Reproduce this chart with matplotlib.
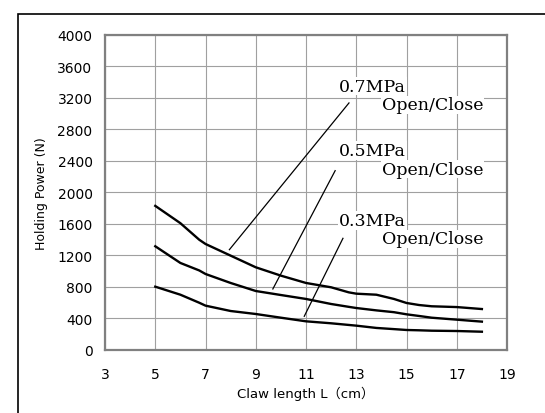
import matplotlib.pyplot as plt
from matplotlib.patches import Rectangle

# Data.
claw_len = [5, 6, 6.75, 7, 8, 9, 10, 11, 12, 12.7, 13, 13.8, 14.5, 15, 15.5, 16, 17, 18]
p07 = [1830, 1610, 1400, 1346, 1198, 1050, 944, 851, 796, 732, 715, 702, 648, 597, 571, 555, 545, 520]
p05 = [1317, 1105, 1010, 965, 851, 749, 698, 648, 584, 548, 533, 503, 480, 453, 432, 410, 385, 360]
p03 = [804, 702, 600, 563, 495, 457, 410, 364, 339, 318, 309, 280, 265, 254, 250, 245, 241, 232]

labels = ['0.7MPa', '0.5MPa', '0.3MPa']
label_y = [3352, 2531, 1642]
sub_y = [3111, 2298, 1410]
leader_start = [(12.71, 3137), (12.16, 2277), (12.47, 1418)]
leader_end = [(7.95, 1274), (9.68, 775), (10.93, 428)]

xticks = [3, 5, 7, 9, 11, 13, 15, 17, 19]
yticks = list(range(0, 4001, 400))

fig = plt.figure(figsize=(5.45, 4.14), dpi=100)
ax = fig.add_axes([0.1927, 0.1522, 0.7376, 0.7609])

for series in (p07, p05, p03):
    ax.plot(claw_len, series, color='black', lw=1.7, zorder=3)

# Leader lines and labels.
for lab, ly, sy, s, e in zip(labels, label_y, sub_y, leader_start, leader_end):
    ax.plot([s[0], e[0]], [s[1], e[1]], color='black', lw=0.9, zorder=3)
    ax.text(12.32, ly, lab, family='DejaVu Serif', fontsize=12.5, va='center', ha='left',
            zorder=4, bbox=dict(facecolor='white', edgecolor='none', pad=0.5))
    ax.text(14.02, sy, 'Open/Close', family='DejaVu Serif', fontsize=12.5, va='center', ha='left',
            zorder=4, bbox=dict(facecolor='white', edgecolor='none', pad=0.5))

ax.set_xlim(3, 19)
ax.set_ylim(0, 4000)
ax.set_xticks(xticks)
ax.set_yticks(yticks)
ax.grid(True, color='#a0a0a0', lw=0.8, zorder=0)
ax.set_axisbelow(True)
ax.tick_params(axis='both', length=0, labelsize=10)
ax.tick_params(axis='x', pad=12)
ax.tick_params(axis='y', pad=9)
for sp in ax.spines.values():
    sp.set_color('#808080')
    sp.set_linewidth(1.6)

ax.set_xlabel('Claw length L\uff08cm\uff09', family=['DejaVu Sans', 'Noto Sans CJK JP'], fontsize=9.5, labelpad=4)
ax.set_ylabel('Holding Power (N)', fontsize=9, labelpad=7)

# Outer frame of the picture.
top = 1 - 15 / 414
fig.add_artist(Rectangle((18 / 545, -0.2), 1.2, top + 0.2, transform=fig.transFigure,
                         fill=False, edgecolor='black', lw=1.2))

plt.savefig('out.png', dpi=100)
